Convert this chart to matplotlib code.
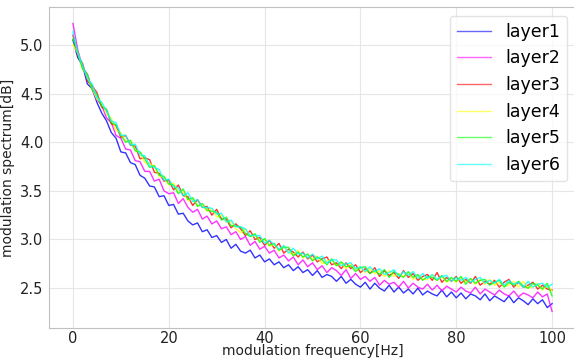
import matplotlib as mpl
mpl.use('Agg')
import matplotlib.pyplot as plt
import numpy as np

# modulation frequency axis, 1 Hz steps
freq = np.arange(0, 101)

layer1 = [5.05, 4.87, 4.79, 4.60, 4.55, 4.41, 4.30, 4.22, 4.10, 4.04,
          3.90, 3.89, 3.79, 3.77, 3.66, 3.63, 3.55, 3.54, 3.44, 3.45,
          3.35, 3.36, 3.26, 3.27, 3.19, 3.15, 3.17, 3.08, 3.10, 3.02,
          3.04, 2.97, 3.00, 2.91, 2.95, 2.88, 2.86, 2.89, 2.81, 2.84,
          2.77, 2.80, 2.74, 2.77, 2.71, 2.74, 2.68, 2.72, 2.66, 2.69,
          2.63, 2.68, 2.61, 2.64, 2.62, 2.57, 2.62, 2.55, 2.59, 2.54,
          2.51, 2.56, 2.49, 2.55, 2.50, 2.47, 2.53, 2.46, 2.51, 2.45,
          2.49, 2.44, 2.50, 2.43, 2.47, 2.44, 2.42, 2.48, 2.41, 2.46,
          2.40, 2.45, 2.39, 2.44, 2.42, 2.38, 2.44, 2.37, 2.42, 2.39,
          2.36, 2.42, 2.35, 2.40, 2.37, 2.33, 2.39, 2.34, 2.38, 2.30,
          2.34]
layer2 = [5.22, 4.95, 4.77, 4.70, 4.55, 4.44, 4.38, 4.25, 4.20, 4.07,
          4.04, 3.93, 3.92, 3.81, 3.80, 3.70, 3.70, 3.60, 3.62, 3.50,
          3.47, 3.48, 3.37, 3.42, 3.33, 3.28, 3.31, 3.21, 3.24, 3.16,
          3.19, 3.11, 3.13, 3.05, 3.08, 3.00, 3.03, 2.94, 2.98, 2.90,
          2.93, 2.86, 2.89, 2.81, 2.84, 2.78, 2.82, 2.74, 2.79, 2.72,
          2.76, 2.69, 2.73, 2.66, 2.71, 2.68, 2.63, 2.69, 2.60, 2.65,
          2.59, 2.62, 2.57, 2.61, 2.53, 2.58, 2.54, 2.56, 2.51, 2.57,
          2.50, 2.55, 2.51, 2.49, 2.54, 2.48, 2.53, 2.47, 2.52, 2.49,
          2.46, 2.51, 2.47, 2.45, 2.51, 2.44, 2.49, 2.46, 2.43, 2.48,
          2.44, 2.42, 2.47, 2.41, 2.45, 2.43, 2.40, 2.46, 2.41, 2.44,
          2.26]
layer3 = [5.10, 4.89, 4.81, 4.63, 4.58, 4.51, 4.36, 4.33, 4.19, 4.17,
          4.05, 4.07, 3.97, 3.96, 3.83, 3.84, 3.82, 3.69, 3.68, 3.60,
          3.61, 3.51, 3.56, 3.45, 3.44, 3.35, 3.41, 3.33, 3.34, 3.25,
          3.31, 3.21, 3.21, 3.12, 3.16, 3.11, 3.04, 3.09, 3.00, 3.02,
          2.94, 2.99, 2.91, 2.96, 2.86, 2.90, 2.87, 2.82, 2.87, 2.80,
          2.84, 2.77, 2.80, 2.82, 2.74, 2.76, 2.70, 2.76, 2.70, 2.74,
          2.66, 2.70, 2.65, 2.71, 2.62, 2.68, 2.63, 2.66, 2.60, 2.68,
          2.61, 2.65, 2.58, 2.62, 2.64, 2.58, 2.66, 2.56, 2.61, 2.57,
          2.62, 2.55, 2.59, 2.55, 2.62, 2.53, 2.57, 2.54, 2.58, 2.51,
          2.56, 2.59, 2.51, 2.56, 2.51, 2.53, 2.56, 2.49, 2.53, 2.49,
          2.48]
layer4 = [5.00, 4.92, 4.76, 4.68, 4.55, 4.44, 4.41, 4.29, 4.25, 4.12,
          4.10, 4.01, 4.01, 3.92, 3.89, 3.79, 3.78, 3.75, 3.65, 3.64,
          3.56, 3.58, 3.49, 3.49, 3.40, 3.42, 3.35, 3.35, 3.29, 3.32,
          3.23, 3.25, 3.18, 3.19, 3.11, 3.07, 3.11, 3.03, 3.04, 2.99,
          3.00, 2.93, 2.95, 2.88, 2.93, 2.87, 2.84, 2.89, 2.81, 2.85,
          2.79, 2.83, 2.75, 2.78, 2.79, 2.73, 2.76, 2.70, 2.75, 2.69,
          2.72, 2.66, 2.70, 2.65, 2.68, 2.62, 2.68, 2.62, 2.65, 2.62,
          2.66, 2.59, 2.63, 2.59, 2.59, 2.64, 2.58, 2.62, 2.56, 2.60,
          2.56, 2.61, 2.56, 2.59, 2.54, 2.59, 2.54, 2.59, 2.53, 2.56,
          2.52, 2.53, 2.57, 2.51, 2.57, 2.50, 2.51, 2.55, 2.48, 2.53,
          2.47]
layer5 = [5.06, 4.93, 4.75, 4.70, 4.54, 4.49, 4.37, 4.34, 4.20, 4.18,
          4.07, 4.00, 4.02, 3.91, 3.90, 3.83, 3.74, 3.76, 3.66, 3.65,
          3.57, 3.56, 3.47, 3.52, 3.41, 3.43, 3.34, 3.37, 3.30, 3.29,
          3.28, 3.20, 3.23, 3.14, 3.14, 3.13, 3.06, 3.03, 3.06, 2.97,
          3.01, 2.94, 2.96, 2.89, 2.92, 2.92, 2.83, 2.87, 2.82, 2.85,
          2.78, 2.82, 2.79, 2.74, 2.80, 2.73, 2.77, 2.72, 2.73, 2.67,
          2.71, 2.72, 2.65, 2.68, 2.64, 2.69, 2.61, 2.67, 2.64, 2.61,
          2.67, 2.61, 2.64, 2.58, 2.62, 2.61, 2.58, 2.63, 2.57, 2.61,
          2.57, 2.62, 2.54, 2.60, 2.55, 2.58, 2.59, 2.53, 2.56, 2.58,
          2.51, 2.56, 2.53, 2.57, 2.52, 2.50, 2.55, 2.53, 2.49, 2.55,
          2.42]
layer6 = [5.14, 4.91, 4.80, 4.65, 4.60, 4.46, 4.41, 4.32, 4.22, 4.20,
          4.07, 4.07, 3.97, 3.98, 3.87, 3.86, 3.76, 3.74, 3.72, 3.61,
          3.62, 3.54, 3.53, 3.45, 3.48, 3.39, 3.41, 3.33, 3.33, 3.32,
          3.26, 3.27, 3.18, 3.20, 3.13, 3.13, 3.11, 3.04, 3.04, 3.04,
          2.96, 2.99, 2.95, 2.90, 2.94, 2.86, 2.91, 2.85, 2.86, 2.81,
          2.85, 2.80, 2.83, 2.76, 2.79, 2.79, 2.73, 2.75, 2.76, 2.70,
          2.72, 2.67, 2.72, 2.67, 2.70, 2.64, 2.66, 2.69, 2.62, 2.67,
          2.63, 2.67, 2.60, 2.65, 2.60, 2.64, 2.59, 2.62, 2.63, 2.57,
          2.61, 2.58, 2.61, 2.56, 2.59, 2.61, 2.55, 2.58, 2.55, 2.59,
          2.53, 2.58, 2.54, 2.56, 2.51, 2.57, 2.51, 2.54, 2.55, 2.51,
          2.54]

layers = [layer1, layer2, layer3, layer4, layer5, layer6]
labels = ['layer1', 'layer2', 'layer3', 'layer4', 'layer5', 'layer6']
colors = ['blue', 'magenta', 'red', 'yellow', 'lime', 'cyan']

fig = plt.figure(figsize=(5.74, 3.62), dpi=100)
ax = fig.add_axes([49 / 574, 34 / 362, 527 / 574, 321 / 362])

for ys, lab, c in zip(layers, labels, colors):
    ax.plot(freq, ys, color=c, alpha=0.8, linewidth=1, label=lab)

ax.set_xlim(-5, 105)
ax.set_ylim(2.09, 5.39)
ax.set_xticks([0, 20, 40, 60, 80, 100])
ax.set_yticks([2.5, 3.0, 3.5, 4.0, 4.5, 5.0])
ax.grid(True, color='#e6e6e6', linewidth=0.8)
ax.set_axisbelow(True)
for s in ax.spines.values():
    s.set_color('#c0c0c0')
ax.tick_params(length=0, labelsize=10.5, colors='#222222', pad=4)
ax.tick_params(axis='x', pad=2)
ax.set_xlabel('modulation frequency[Hz]', fontsize=10, color='#222222', labelpad=-1)
ax.set_ylabel('modulation spectrum[dB]', fontsize=10, color='#222222', labelpad=4)
leg = ax.legend(loc='upper right', fontsize=12.5, framealpha=0.8, edgecolor='#dddddd')
for h in leg.get_lines():
    h.set_alpha(0.6)

fig.savefig('out.png', dpi=100)
